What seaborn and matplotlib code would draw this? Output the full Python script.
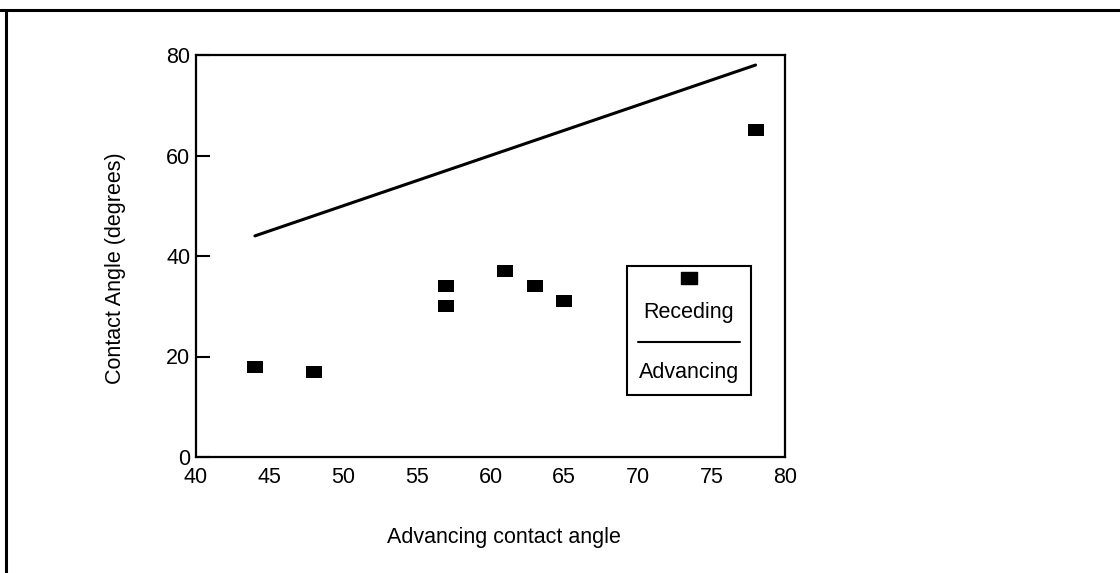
import numpy as np
import pandas as pd
import matplotlib
matplotlib.use("Agg")
import matplotlib.pyplot as plt
import seaborn as sns
from matplotlib.offsetbox import AnchoredOffsetbox, VPacker, TextArea, DrawingArea
from matplotlib.lines import Line2D

# ---- data ----
advancing_angle = [44, 48, 57, 57, 61, 63, 65, 78]
receding_angle = [18, 17, 34, 30, 37, 34, 31, 65]
line_x = [44, 78]
line_y = [44, 78]
x_ticks = [40, 45, 50, 55, 60, 65, 70, 75, 80]
y_ticks = [0, 20, 40, 60, 80]

sns.set_theme(style="white")
plt.rcParams['font.family'] = ['Liberation Sans', 'DejaVu Sans']

FS = 15.5
fig = plt.figure(figsize=(11.2, 5.73), dpi=100)
ax = fig.add_axes([196/1120, 1-457/573, (785-196)/1120, (457-55)/573])

rect_marker = [(-1, -0.68), (1, -0.68), (1, 0.68), (-1, 0.68), (-1, -0.68)]

df = pd.DataFrame({"adv": advancing_angle, "rec": receding_angle})
dl = pd.DataFrame({"x": line_x, "y": line_y})
sns.lineplot(data=dl, x="x", y="y", ax=ax, color="black", lw=2.2, legend=False)
sns.scatterplot(data=df, x="adv", y="rec", ax=ax, marker=rect_marker, s=140,
                color="black", edgecolor="black", linewidth=0, legend=False)

ax.set_xlim(40, 80)
ax.set_ylim(0, 80)
ax.set_xticks(x_ticks)
ax.set_yticks(y_ticks)
ax.set_xticklabels([str(v) for v in x_ticks], fontsize=FS)
ax.set_yticklabels([str(v) for v in y_ticks], fontsize=FS)
ax.tick_params(axis="x", bottom=False, length=0, pad=7, colors="black")
ax.tick_params(axis="y", left=True, direction="in", length=10, width=1.5, pad=4, colors="black")
for s in ax.spines.values():
    s.set_visible(True)
    s.set_color("black")
    s.set_linewidth(1.6)

ax.set_xlabel("Advancing contact angle", fontsize=FS, color="black")
ax.set_ylabel("Contact Angle (degrees)", fontsize=FS, color="black")
ax.xaxis.set_label_coords((504-196)/589, (457-527)/402)
ax.yaxis.set_label_coords((126-196)/589, (457-268)/402)

# ---- legend (stacked marker / label / line / label) ----
da_marker = DrawingArea(80, 8, 0, 0)
da_marker.add_artist(Line2D([40], [4], marker=rect_marker, ms=12, color="black", lw=0))
da_line = DrawingArea(80, 2, 0, 0)
da_line.add_artist(Line2D([3, 77], [1, 1], color="black", lw=1.5))
t1 = TextArea("Receding", textprops=dict(fontsize=FS, color="black"))
t2 = TextArea("Advancing", textprops=dict(fontsize=FS, color="black"))
spacer = DrawingArea(80, 4, 0, 0)
last = VPacker(children=[t2, spacer], align="center", pad=0, sep=0)
pack = VPacker(children=[da_marker, t1, da_line, last], align="center", pad=0, sep=13)
anch = AnchoredOffsetbox(loc="center", child=pack, pad=0.45, borderpad=0,
                         frameon=True, bbox_to_anchor=((689-196)/589, (457-330.5)/402),
                         bbox_transform=ax.transAxes)
anch.patch.set_edgecolor("black")
anch.patch.set_linewidth(1.5)
anch.patch.set_boxstyle("square,pad=0")
ax.add_artist(anch)

# ---- outer frame of the scanned figure ----
fig.add_artist(Line2D([0, 1], [1-10/573, 1-10/573], transform=fig.transFigure, color="black", lw=2.2))
fig.add_artist(Line2D([6/1120, 6/1120], [0, 1-10/573], transform=fig.transFigure, color="black", lw=2.2))

fig.savefig("out.png", dpi=100, facecolor="white")
